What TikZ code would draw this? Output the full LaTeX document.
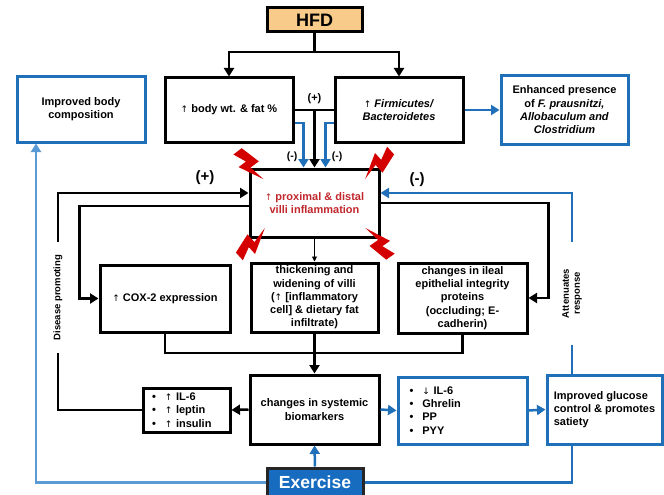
\documentclass[tikz,border=0pt]{standalone}
\usepackage{fontspec}
\setmainfont{Liberation Sans}
\newfontfamily\symfont{DejaVu Sans}
\usetikzlibrary{arrows.meta,calc}
\definecolor{dblue}{RGB}{31,112,184}
\definecolor{lblue}{RGB}{91,155,213}
\definecolor{exblue}{RGB}{24,108,192}
\definecolor{hfdfill}{RGB}{249,203,139}
\definecolor{redtxt}{RGB}{193,39,45}
\definecolor{boltred}{RGB}{212,0,0}
\newcommand\upa{{\symfont\mdseries\fontsize{9}{9}\selectfont ↑}}
\newcommand\dna{{\symfont\mdseries\fontsize{9}{9}\selectfont ↓}}
\begin{document}
\begin{tikzpicture}[x=1pt,y=-1pt,
  txt/.style={font=\fontsize{11}{13.3}\selectfont\bfseries},
  bx/.style={txt, draw=black, line width=3pt, fill=white, inner sep=2pt, align=center},
  bbx/.style={bx, draw=dblue},
  cn/.style={line width=2.5pt, draw=black},
  ca/.style={cn, -{Triangle[length=8.5pt,width=10pt]}},
  bc/.style={line width=2.5pt, draw=dblue},
  ba/.style={bc, -{Triangle[length=8.5pt,width=10pt]}},
  lba/.style={line width=2.5pt, draw=lblue, -{Triangle[length=8.5pt,width=10pt]}},
  lbl/.style={font=\fontsize{10.5}{10.5}\selectfont\bfseries, inner sep=0pt},
  biglbl/.style={font=\fontsize{15}{15}\selectfont\bfseries, inner sep=0pt},
  rottxt/.style={font=\fontsize{9.5}{11}\selectfont\bfseries, rotate=90, align=center, inner ysep=0pt},
  boltshape/.pic={\fill[boltred] (0,-4.4) -- (19.8,-9.9) -- (19.8,0) -- (36,-3.3) -- (12.6,8.8) -- (12.6,0) -- (0,5.5) -- cycle;}
]
\path[fill=white] (0,0) rectangle (664,495);
\useasboundingbox (0,0) rectangle (664,495);
\clip (0,0) rectangle (664,495);

% nodes
\node[bx, fill=hfdfill, minimum width=95pt, minimum height=24pt, font=\fontsize{18}{18}\selectfont\bfseries] (hfd) at (314.5,20) {HFD};
\node[bx, minimum width=128pt, minimum height=64pt] (body) at (229,110) {\upa\ body wt. \& fat \%};
\node[bx, minimum width=128pt, minimum height=64pt] (firm) at (399,110) {\upa\ \textit{Firmicutes/}\\\textit{Bacteroidetes}};
\node[bbx, minimum width=128pt, minimum height=65pt] (ibc) at (81,109.5) {Improved body\\composition};
\node[bbx, minimum width=127pt, minimum height=68pt] (enh) at (564.5,110) {Enhanced presence\\of \textit{F. prausnitzi,}\\\textit{Allobaculum and}\\\textit{Clostridium}};
\node[bx, minimum width=129pt, minimum height=68pt, text=redtxt] (cen) at (314.5,203) {\upa\ proximal \& distal\\villi inflammation};
\node[bx, minimum width=130pt, minimum height=67pt] (cox) at (165,298.5) {\upa\ COX-2 expression};
\node[bx, minimum width=127pt, minimum height=69pt, inner sep=0pt] (thk) at (314.5,297.5) {thickening and\\widening of villi\\(\upa\ [inflammatory\\cell] \& dietary fat\\infiltrate)};
\node[bx, minimum width=129pt, minimum height=70pt, inner sep=0pt] (ile) at (462.5,298) {changes in ileal\\epithelial integrity\\proteins\\(occluding; E-\\cadherin)};
\node[bx, minimum width=129pt, minimum height=69pt] (bio) at (314.5,409.5) {changes in systemic\\biomarkers};
\node[bx, minimum width=87pt, minimum height=44pt, text width=69pt, inner xsep=9pt, inner ysep=0pt, align=left] (upb) at (186.5,410) {\textbullet\hspace{9pt}\upa\ IL-6\\\textbullet\hspace{9pt}\upa\ leptin\\\textbullet\hspace{9pt}\upa\ insulin};
\node[bbx, minimum width=129pt, minimum height=67pt, text width=114pt, inner xsep=7.5pt, inner ysep=0pt, align=left] (dnb) at (462.5,410.5) {\hspace{4pt}\textbullet\hspace{9pt}\dna\ IL-6\\\hspace{4pt}\textbullet\hspace{9pt}Ghrelin\\\hspace{4pt}\textbullet\hspace{9pt}PP\\\hspace{4pt}\textbullet\hspace{9pt}PYY};
\node[bbx, minimum width=115pt, minimum height=69pt, align=left] (glu) at (604.5,409.5) {Improved glucose\\control \& promotes\\satiety};
\node[draw=black!85, line width=3pt, fill=exblue, text=white, font=\fontsize{17.5}{17.5}\selectfont\bfseries, minimum width=96pt, minimum height=29pt, inner sep=0pt] (exe) at (315,482.5) {Exercise};

% labels
\node[lbl, font=\fontsize{11}{11}\selectfont\bfseries] (pl1) at (314.5,99) {(+)};
\node[lbl] (mn1) at (292,157) {(-)};
\node[lbl] (mn2) at (337,157) {(-)};
\node[biglbl] (pl2) at (205,178) {(+)};
\node[biglbl] (mn3) at (417,180) {(-)};
\node[rottxt, inner xsep=13pt] (dp) at (58,297.5) {Disease promoting};
\node[rottxt, inner xsep=27pt] (att) at (572,293.5) {Attenuates\\response};

% connectors
\coordinate (hj) at (314.5,52);
\draw[cn] (hfd.south) -- (hj);
\draw[ca] (hj) -| (body.north);
\draw[ca] (hj) -| (firm.north);
\draw[cn] (body.east) -- (firm.west);
\draw[ca] (cen.north |- body.east) -- (cen.north);
\draw[ba] ([yshift=-13pt]body.east) -| ([xshift=-11pt]cen.north);
\draw[ba] ([yshift=-13pt]firm.west) -| ([xshift=11pt]cen.north);
\draw[ba] (firm.east) -- (enh.west);

\draw[ca] (dp.east) |- ([yshift=10pt]cen.west);
\draw[cn] (upb.west) -| (dp.west);
\draw[ca] ([yshift=-3pt]cen.west) -| ([xshift=-19pt]cox.west) -- (cox.west);
\draw[ca] (cen.east) -| ([xshift=20pt]ile.east) -- (ile.east);
\draw[ba] (att.east) |- ([yshift=10pt]cen.east);
\draw[bc] (att.west) -- (att.west |- glu.north);

\coordinate (cy) at (0,353);
\draw[cn] (cox.south) -- (cox.south |- cy) -- (ile.south |- cy) -- (ile.south);
\draw[ca] (thk.south) -- (bio.north);
\draw[line width=0.9pt, -{Triangle[length=5pt,width=5pt]}] (cen.south) -- (thk.north);
\draw[ca] (bio.west) -- (upb.east);
\draw[ba] (bio.east) -- (dnb.west);
\draw[ba] (dnb.east) -- (glu.west);
\draw[ba] (exe.north) -- (bio.south);
\draw[lba] (exe.west) -| ([xshift=-45pt]ibc.south);
\draw[bc] (exe.east) -| (att.west |- glu.south);

% lightning bolts
\pic[rotate=-53, scale=1.05] at (238,151) {boltshape};
\pic[rotate=-138, scale=1.05] at (391,151) {boltshape};
\pic[rotate=42, scale=1.05] at (239,256) {boltshape};
\pic[rotate=125, scale=1.05] at (390,257) {boltshape};
\end{tikzpicture}
\end{document}
